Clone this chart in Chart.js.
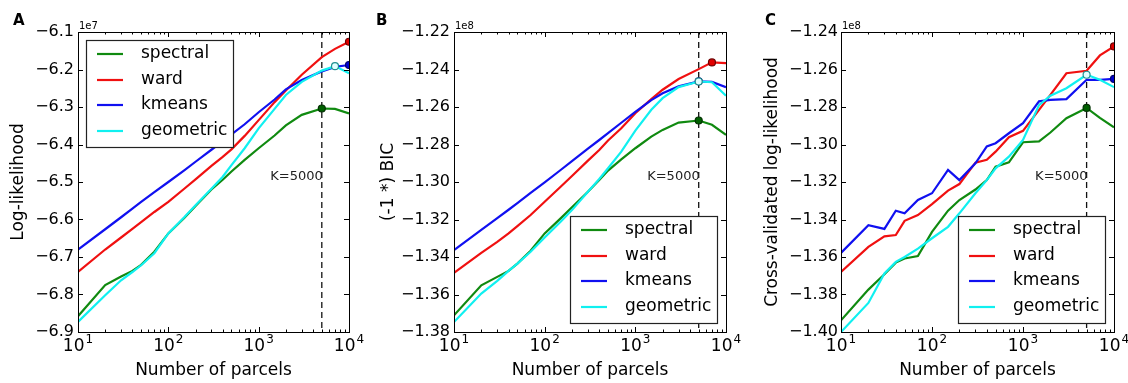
<!DOCTYPE html>
<html>
<head>
<meta charset="utf-8">
<script src="https://cdn.jsdelivr.net/npm/chart.js@4"></script>
<style>
body{margin:0;background:#fff}
#wrap{position:relative;width:1128px;height:383px;background:#fff}
canvas{position:absolute;top:0}
</style>
</head>
<body>
<div id="wrap">
<canvas id="cA" width="376" height="383" style="left:0"></canvas>
<canvas id="cB" width="376" height="383" style="left:376px"></canvas>
<canvas id="cC" width="376" height="383" style="left:752px"></canvas>
</div>
<script>
// shared x values and series names
const parcels=[10,20,30,40,50,70,100,150,200,300,400,500,700,1000,1500,2000,3000,5000,7000,10000]
const methods=["spectral","ward","kmeans","geometric"]
const colors=["#108a10","#f01010","#1010f0","#10f0f0"]
const xTicks=[10,100,1000,10000]
const xTickExp=["1","2","3","4"]
const bestK=5000

// A: log-likelihood (x1e7)
const llSpectral=[-6.858,-6.775,-6.752,-6.737,-6.721,-6.686,-6.637,-6.596,-6.564,-6.520,-6.494,-6.472,-6.441,-6.410,-6.376,-6.349,-6.321,-6.304,-6.305,-6.317]
const llWard=[-6.740,-6.680,-6.648,-6.625,-6.607,-6.580,-6.553,-6.518,-6.493,-6.457,-6.433,-6.413,-6.377,-6.335,-6.287,-6.256,-6.214,-6.167,-6.145,-6.126]
const llKmeans=[-6.680,-6.626,-6.594,-6.571,-6.553,-6.527,-6.500,-6.469,-6.446,-6.414,-6.391,-6.373,-6.346,-6.314,-6.280,-6.253,-6.228,-6.205,-6.193,-6.188]
const llGeometric=[-6.873,-6.802,-6.762,-6.740,-6.722,-6.690,-6.637,-6.594,-6.562,-6.518,-6.486,-6.455,-6.410,-6.357,-6.305,-6.268,-6.233,-6.203,-6.191,-6.210]
const llTicks=[-6.9,-6.8,-6.7,-6.6,-6.5,-6.4,-6.3,-6.2,-6.1]

// B: (-1 *) BIC (x1e8)
const bicSpectral=[-1.3711,-1.3551,-1.3506,-1.3474,-1.3435,-1.3367,-1.3274,-1.3194,-1.3135,-1.3052,-1.2989,-1.2939,-1.2879,-1.2820,-1.2758,-1.2722,-1.2683,-1.2672,-1.2695,-1.2749]
const bicWard=[-1.3485,-1.3378,-1.3319,-1.3274,-1.3235,-1.3176,-1.3105,-1.3025,-1.2968,-1.2886,-1.2829,-1.2779,-1.2713,-1.2633,-1.2558,-1.2508,-1.2451,-1.2398,-1.2362,-1.2366]
const bicKmeans=[-1.3363,-1.3255,-1.3193,-1.3148,-1.3113,-1.3058,-1.3002,-1.2936,-1.2889,-1.2822,-1.2776,-1.2739,-1.2684,-1.2626,-1.2563,-1.2527,-1.2490,-1.2463,-1.2466,-1.2494]
const bicGeometric=[-1.3747,-1.3595,-1.3527,-1.3474,-1.3435,-1.3372,-1.3296,-1.3212,-1.3150,-1.3052,-1.2984,-1.2927,-1.2838,-1.2726,-1.2615,-1.2553,-1.2494,-1.2464,-1.2468,-1.2540]
const bicTicks=[-1.38,-1.36,-1.34,-1.32,-1.30,-1.28,-1.26,-1.24,-1.22]

// C: cross-validated log-likelihood (x1e8)
const cvSpectral=[-1.3938,-1.3774,-1.3692,-1.3630,-1.3608,-1.3595,-1.3466,-1.3353,-1.3296,-1.3240,-1.3190,-1.3118,-1.3095,-1.2988,-1.2983,-1.2936,-1.2860,-1.2805,-1.2858,-1.2908]
const cvWard=[-1.3680,-1.3546,-1.3490,-1.3483,-1.3407,-1.3376,-1.3318,-1.3246,-1.3211,-1.3097,-1.3082,-1.3038,-1.2961,-1.2927,-1.2815,-1.2735,-1.2620,-1.2607,-1.2525,-1.2477]
const cvKmeans=[-1.3578,-1.3430,-1.3450,-1.3353,-1.3367,-1.3296,-1.3260,-1.3136,-1.3190,-1.3100,-1.3010,-1.2993,-1.2940,-1.2886,-1.2770,-1.2762,-1.2758,-1.2655,-1.2655,-1.2650]
const cvGeometric=[-1.4000,-1.3845,-1.3688,-1.3626,-1.3600,-1.3555,-1.3500,-1.3439,-1.3367,-1.3260,-1.3190,-1.3127,-1.3065,-1.2976,-1.2790,-1.2740,-1.2700,-1.2628,-1.2655,-1.2694]
const cvTicks=[-1.40,-1.38,-1.36,-1.34,-1.32,-1.30,-1.28,-1.26,-1.24]

Chart.defaults.font.family="'DejaVu Sans'"
Chart.defaults.color="#000"

const markerFill=["#006000","#e00000","#0000d0","#e0ffff"]
const markerEdge=["#003000","#700000","#000070","#209090"]

function line(ctx,x1,y1,x2,y2){
ctx.beginPath()
ctx.moveTo(x1,y1)
ctx.lineTo(x2,y2)
ctx.stroke()
}

// frame, inward ticks, K marker, legend, labels
const panelPlugin={
id:"panel",
beforeDatasetsDraw(chart,args,o){
const ctx=chart.ctx
const {top,bottom}=chart.chartArea
const px=chart.scales.x.getPixelForValue(bestK)
ctx.save()
ctx.strokeStyle="#111"
ctx.lineWidth=1.3
ctx.setLineDash([6,4])
line(ctx,px,top,px,bottom)
ctx.setLineDash([])
ctx.font="13px 'DejaVu Sans'"
ctx.fillStyle="#222"
ctx.textAlign="right"
ctx.textBaseline="middle"
ctx.fillText("K="+bestK,px+1,top+0.483*(bottom-top))
ctx.restore()
},
afterDraw(chart,args,o){
const ctx=chart.ctx
const {left,right,top,bottom}=chart.chartArea
const xs=chart.scales.x, ys=chart.scales.y
ctx.save()
ctx.strokeStyle="#000"
ctx.lineWidth=1
for(let d=1;d<=4;d++){
for(let m=1;m<=9;m++){
const v=m*Math.pow(10,d)
if(v>10000) break
const x=Math.round(xs.getPixelForValue(v))+0.5
const len=m===1?5:2.5
line(ctx,x,bottom,x,bottom-len)
line(ctx,x,top,x,top+len)
}
}
ys.ticks.forEach(t=>{
const y=Math.round(ys.getPixelForValue(t.value))+0.5
line(ctx,left,y,left+5,y)
line(ctx,right,y,right-5,y)
})
ctx.strokeRect(Math.round(left)+0.5,Math.round(top)+0.5,Math.round(right-left),Math.round(bottom-top))

// x tick labels as 10 with a raised exponent
ctx.fillStyle="#000"
ctx.textBaseline="alphabetic"
xs.ticks.forEach((t,i)=>{
const x=xs.getPixelForValue(t.value)
ctx.font="17px 'DejaVu Sans'"
const wb=ctx.measureText("10").width
ctx.font="12px 'DejaVu Sans'"
const we=ctx.measureText(xTickExp[i]).width
const x0=x-(wb+we+1)/2
ctx.textAlign="left"
ctx.font="17px 'DejaVu Sans'"
ctx.fillText("10",x0,bottom+19)
ctx.font="12px 'DejaVu Sans'"
ctx.fillText(xTickExp[i],x0+wb+1,bottom+11)
})

// legend box
const w=147,h=107
let bx=left+8,by=top+8
if(o.legendAt==="lower right"){bx=right-9-w;by=bottom-9-h}
ctx.fillStyle="#fff"
ctx.fillRect(bx,by,w,h)
ctx.strokeStyle="#222"
ctx.lineWidth=1.2
ctx.strokeRect(bx+0.5,by+0.5,w,h)
ctx.font="17px 'DejaVu Sans'"
ctx.textAlign="left"
ctx.textBaseline="middle"
const rows=[14,40,65,91]
chart.data.datasets.forEach((ds,i)=>{
const y=by+rows[i]
ctx.strokeStyle=ds.borderColor
ctx.lineWidth=2.2
line(ctx,bx+11,y,bx+37,y)
ctx.fillStyle="#000"
ctx.fillText(ds.label,bx+55,y)
})

// offset text and panel letter
ctx.fillStyle="#000"
ctx.font="10px 'DejaVu Sans'"
ctx.textBaseline="alphabetic"
ctx.fillText(o.offset,left+1,top-3)
ctx.font="bold 15px 'DejaVu Sans'"
ctx.fillText(o.letter,o.letterX,25)
ctx.restore()
}
}

function bestIndex(arr){
let b=0
arr.forEach((v,i)=>{if(v>arr[b]) b=i})
return b
}

function makePanel(id,series,cfg){
const datasets=series.map((s,i)=>{
const best=bestIndex(s)
return {
label:methods[i],
data:s.map((v,j)=>({x:parcels[j],y:v})),
borderColor:colors[i],
borderWidth:2.2,
tension:0,
order:series.length-1-i,
pointRadius:s.map((v,j)=>j===best?3.5:0),
pointBackgroundColor:markerFill[i],
pointBorderColor:markerEdge[i],
pointBorderWidth:1.2
}
})
new Chart(document.getElementById(id),{
type:"line",
data:{labels:parcels,datasets:datasets},
options:{
responsive:false,
animation:false,
events:[],
layout:{padding:{top:32,right:cfg.padRight,bottom:0,left:0}},
plugins:{legend:{display:false},tooltip:{enabled:false},panel:cfg},
scales:{
x:{
type:"logarithmic",
min:10,
max:10000,
grid:{display:false,drawTicks:false},
border:{display:false},
afterBuildTicks:s=>{s.ticks=xTicks.map(v=>({value:v}))},
afterFit:s=>{s.height=51},
ticks:{display:false},
title:{display:true,text:"Number of parcels",font:{size:17},padding:{top:0,bottom:2}}
},
y:{
type:"linear",
min:cfg.ticks[0],
max:cfg.ticks[cfg.ticks.length-1],
grid:{display:false,drawTicks:false},
border:{display:false},
afterBuildTicks:s=>{s.ticks=cfg.ticks.map(v=>({value:v}))},
afterFit:s=>{s.width=cfg.plotLeft},
ticks:{
font:{size:16},
padding:cfg.tickPad,
autoSkip:false,
callback:(v)=>v.toFixed(cfg.decimals).replace("-","\u2212")
},
title:{display:true,text:cfg.yTitle,font:{size:17},padding:{top:cfg.titlePad,bottom:0}}
}
}
},
plugins:[panelPlugin]
})
}

makePanel("cA",[llSpectral,llWard,llKmeans,llGeometric],{
letter:"A",letterX:13,offset:"1e7",legendAt:"upper left",
ticks:llTicks,decimals:1,yTitle:"Log-likelihood",
plotLeft:78,padRight:27,tickPad:4,titlePad:8
})
makePanel("cB",[bicSpectral,bicWard,bicKmeans,bicGeometric],{
letter:"B",letterX:0,offset:"1e8",legendAt:"lower right",
ticks:bicTicks,decimals:2,yTitle:"(-1 *) BIC",
plotLeft:78,padRight:26,tickPad:4,titlePad:2
})
makePanel("cC",[cvSpectral,cvWard,cvKmeans,cvGeometric],{
letter:"C",letterX:13,offset:"1e8",legendAt:"lower right",
ticks:cvTicks,decimals:2,yTitle:"Cross-validated log-likelihood",
plotLeft:89,padRight:14,tickPad:3,titlePad:10
})
</script>
</body>
</html>
